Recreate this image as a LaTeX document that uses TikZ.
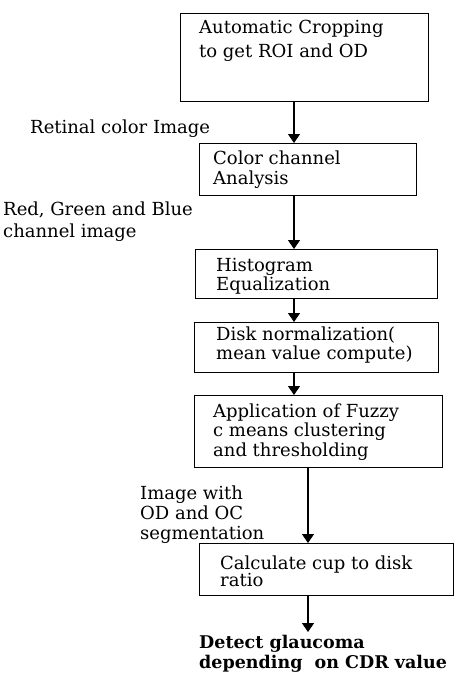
\documentclass[tikz,border=0pt]{standalone}
\usepackage{fontspec}
\setmainfont{DejaVu Serif}
\usetikzlibrary{arrows.meta}
\tikzset{
  box/.style={draw=black, line width=1.2pt, anchor=north west, inner sep=0pt},
  txt/.style={anchor=base west, inner sep=0pt, align=left},
  arr/.style={line width=1.2pt, -{Triangle[width=12pt,length=9pt]}}
}
\newcommand{\fs}[1]{\fontsize{18}{#1}\selectfont}
\begin{document}
\begin{tikzpicture}[x=1pt,y=-1pt]
\useasboundingbox[fill=white] (0,0) rectangle (455,675);
\coordinate (colA) at (294,0);
\coordinate (colB) at (308,0);
% boxes
\node[box, minimum width=248pt, minimum height=88pt] (b1) at (180,13) {};
\node[box, minimum width=217pt, minimum height=52pt] (b2) at (199,143) {};
\node[box, minimum width=242pt, minimum height=49pt] (b3) at (195,249) {};
\node[box, minimum width=244pt, minimum height=50pt] (b4) at (194,322) {};
\node[box, minimum width=248pt, minimum height=72pt] (b5) at (194,395) {};
\node[box, minimum width=254pt, minimum height=52pt] (b6) at (199,543) {};
% box texts (anchored at the baseline of the last line)
\node[txt, font=\fs{24}] (t1) at (199,57) {Automatic Cropping\\to get ROI and OD};
\node[txt, font=\fs{20}] (t2) at (213,184) {Color channel\\Analysis};
\node[txt, font=\fs{16.5}] (t3) at (216,290) {Histogram\\Equalization};
\node[txt, font=\fs{19}] (t4) at (216,359) {Disk normalization(\\mean value compute)};
\node[txt, font=\fs{19.5}] (t5) at (213,456) {Application of Fuzzy\\c means clustering\\and thresholding};
\node[txt, font=\fs{17}] (t6) at (220,586) {Calculate cup to disk\\ratio};
% side labels
\node[txt, font=\fs{20}] (l1) at (30,133) {Retinal color Image};
\node[txt, font=\fs{21.7}] (l2) at (3,237) {Red, Green and Blue\\channel image};
\node[txt, font=\fs{19.7}] (l3) at (140,539) {Image with\\OD and OC\\segmentation};
\node[txt, font=\bfseries\fontsize{17.5}{19.5}\selectfont] (res) at (199,668) {Detect glaucoma\\depending\ \ on CDR value};
\coordinate (end) at (308,632);
% arrows
\draw[arr] (b1.south -| colA) -- (b2.north -| colA);
\draw[arr] (b2.south -| colA) -- (b3.north -| colA);
\draw[arr] (b3.south -| colA) -- (b4.north -| colA);
\draw[arr] (b4.south -| colA) -- (b5.north -| colA);
\draw[arr] (b5.south -| colB) -- (b6.north -| colB);
\draw[arr] (b6.south -| colB) -- (end);
\end{tikzpicture}
\end{document}
